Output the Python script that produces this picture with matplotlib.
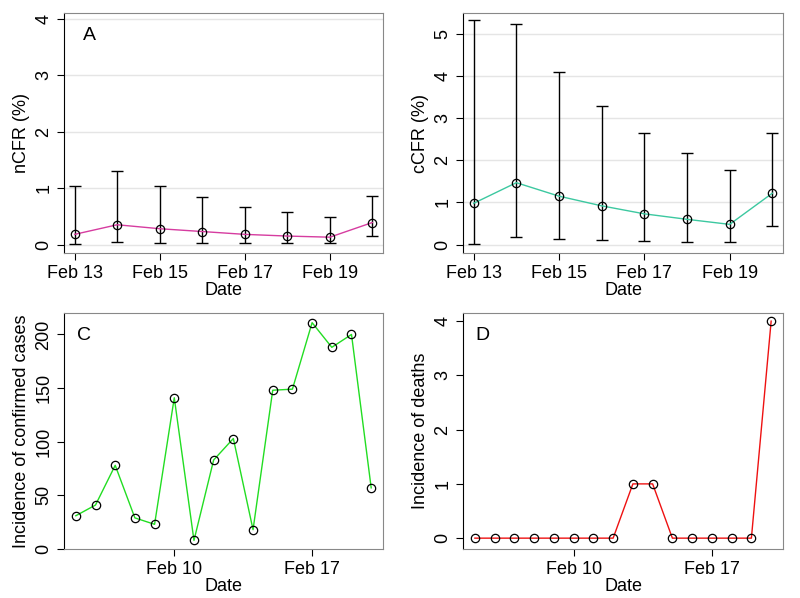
import matplotlib
matplotlib.use("Agg")
import matplotlib.pyplot as plt
import numpy as np
import datetime as dt
import matplotlib.dates as mdates

plt.rcParams['font.family'] = ['Liberation Sans', 'DejaVu Sans']

cfr_dates = [dt.date(2020, 2, d) for d in range(13, 21)]
ncfr = [0.18, 0.35, 0.28, 0.23, 0.18, 0.15, 0.13, 0.39]
ncfr_lo = [0.01, 0.04, 0.03, 0.03, 0.02, 0.02, 0.02, 0.15]
ncfr_hi = [1.03, 1.30, 1.03, 0.84, 0.67, 0.57, 0.49, 0.86]
ccfr = [0.98, 1.47, 1.15, 0.92, 0.73, 0.60, 0.48, 1.22]
ccfr_lo = [0.02, 0.18, 0.13, 0.10, 0.08, 0.07, 0.05, 0.45]
ccfr_hi = [5.33, 5.25, 4.10, 3.30, 2.65, 2.17, 1.78, 2.65]
inc_dates = [dt.date(2020, 2, d) for d in range(5, 21)]
cases = [31, 41, 78, 29, 23, 141, 8, 83, 103, 18, 148, 149, 211, 188, 200, 57]
deaths = [0, 0, 0, 0, 0, 0, 0, 0, 1, 1, 0, 0, 0, 0, 0, 4]

W, H = 800, 598
fig = plt.figure(figsize=(8, 5.98), dpi=100)

def mkax(l, r, t, b):
    return fig.add_axes([l / W, 1 - b / H, (r - l) / W, (b - t) / H])

def style(ax):
    for s in ax.spines.values():
        s.set_color("#888888")
    ax.spines["left"].set_color("black")
    ax.grid(axis="y", color="#e5e5e5", lw=1)
    ax.set_axisbelow(True)
    ax.tick_params(labelsize=13, direction="out", length=5)
    for lab in ax.get_yticklabels():
        lab.set_rotation(90)
        lab.set_va("center")

def cfr_panel(ax, y, lo, hi, col, ylab, ylim, ticks, letter):
    x = mdates.date2num(cfr_dates)
    ax.errorbar(x, y, yerr=[np.array(y) - np.array(lo), np.array(hi) - np.array(y)],
                fmt="none", ecolor="black", elinewidth=1, capsize=4, zorder=2)
    ax.plot(x, y, color=col, lw=1, zorder=3)
    ax.plot(x, y, "o", mfc="none", mec="black", ms=6, mew=0.9, zorder=4)
    ax.set_ylim(*ylim)
    ax.set_yticks(ticks)
    ax.set_xlim(x[0] - 0.25, x[-1] + 0.25)
    ax.set_xticks(mdates.date2num([dt.date(2020, 2, d) for d in (13, 15, 17, 19)]))
    ax.set_xticklabels(["Feb 13", "Feb 15", "Feb 17", "Feb 19"])
    ax.set_xlabel("Date", fontsize=13, labelpad=0)
    ax.set_ylabel(ylab, fontsize=13)
    if letter:
        ax.text(0.06, 0.94, letter, transform=ax.transAxes, fontsize=14, va="top")
    style(ax)

def inc_panel(ax, y, col, ylab, ylim, ticks, letter):
    x = mdates.date2num(inc_dates)
    ax.plot(x, y, color=col, lw=1, zorder=3)
    ax.plot(x, y, "o", mfc="none", mec="black", ms=6, mew=0.9, zorder=4)
    ax.set_ylim(*ylim)
    ax.set_yticks(ticks)
    ax.set_xlim(x[0] - 0.6, x[-1] + 0.6)
    ax.set_xticks(mdates.date2num([dt.date(2020, 2, 10), dt.date(2020, 2, 17)]))
    ax.set_xticklabels(["Feb 10", "Feb 17"])
    ax.set_xlabel("Date", fontsize=13, labelpad=0)
    ax.set_ylabel(ylab, fontsize=13)
    ax.text(0.04, 0.94, letter, transform=ax.transAxes, fontsize=14, va="top")
    style(ax)
    ax.grid(False)

axA = mkax(64, 383, 13, 253)
cfr_panel(axA, ncfr, ncfr_lo, ncfr_hi, "#d63ca0", "nCFR (%)", (-0.15, 4.1), [0, 1, 2, 3, 4], "A")
axB = mkax(463, 783, 13, 253)
cfr_panel(axB, ccfr, ccfr_lo, ccfr_hi, "#3cc8a0", "cCFR (%)", (-0.2, 5.5), [0, 1, 2, 3, 4, 5], "")
axC = mkax(64, 383, 313, 549)
inc_panel(axC, cases, "#22dd22", "Incidence of confirmed cases", (0, 220), [0, 50, 100, 150, 200], "C")
axD = mkax(463, 783, 313, 549)
inc_panel(axD, deaths, "#ee1111", "Incidence of deaths", (-0.2, 4.15), [0, 1, 2, 3, 4], "D")

fig.savefig("out.png", dpi=100)
